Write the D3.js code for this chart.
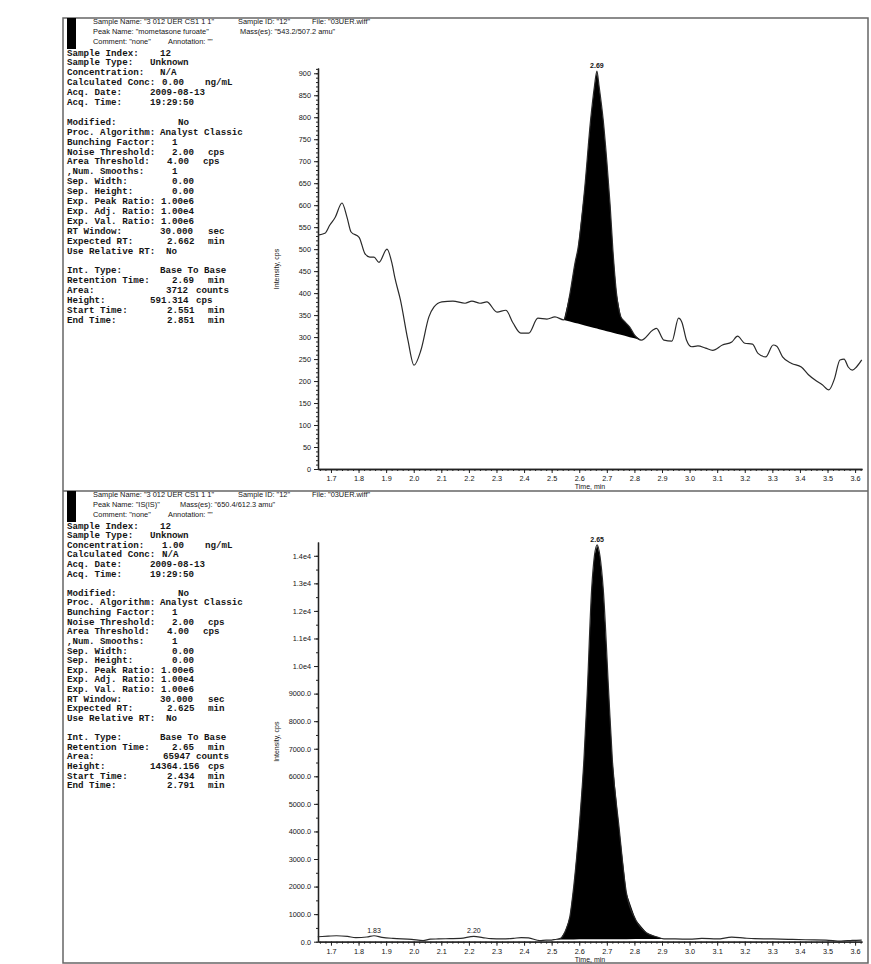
<!DOCTYPE html>
<html>
<head>
<meta charset="utf-8">
<script src="https://cdn.jsdelivr.net/npm/d3@7"></script>
<style>
body { margin: 0; background: #fff; }
svg text { fill: #151515; }
</style>
</head>
<body>
<script>
// chromatogram 1 : mometasone furoate (543.2/507.2)
var topTime = [1.653, 1.678, 1.696, 1.715, 1.740, 1.758, 1.773, 1.802, 1.823, 1.841, 1.856, 1.874, 1.903, 1.921, 1.932,
  1.952, 1.979, 2.001, 2.026, 2.055, 2.073, 2.102, 2.142, 2.186, 2.211, 2.240, 2.265, 2.302, 2.334, 2.360, 2.388, 2.417,
  2.450, 2.483, 2.512, 2.544, 2.566, 2.585, 2.595, 2.620, 2.641, 2.655, 2.664, 2.672, 2.687, 2.700, 2.712, 2.722, 2.735,
  2.751, 2.765, 2.783, 2.800, 2.825, 2.867, 2.880, 2.907, 2.936, 2.960, 2.972, 2.989, 3.008, 3.030, 3.058, 3.084, 3.119,
  3.153, 3.174, 3.200, 3.228, 3.248, 3.276, 3.303, 3.316, 3.337, 3.370, 3.405, 3.430, 3.460, 3.480, 3.505, 3.525, 3.545,
  3.560, 3.575, 3.590, 3.605, 3.624];
var topCps = [532, 536, 555, 572, 605, 573, 539, 527, 490, 482, 482, 470, 500, 468, 434,
  384, 293, 236, 270, 346, 368, 380, 382, 377, 382, 377, 380, 357, 361, 332, 309, 309,
  343, 341, 346, 339, 398, 470, 500, 640, 793, 870, 905, 870, 793, 700, 600, 498, 400,
  346, 335, 323, 305, 293, 316, 320, 293, 291, 343, 334, 293, 278, 280, 275, 270, 282,
  289, 302, 286, 284, 263, 255, 282, 279, 255, 240, 232, 215, 200, 192, 180, 205, 248,
  250, 232, 225, 232, 248];
var topPeak = [2.544, 2.825];
var topPeakLabel = "2.69";

// chromatogram 2 : IS (650.4/612.3)
var botTime = [1.652, 1.690, 1.720, 1.760, 1.790, 1.830, 1.856, 1.885, 1.925, 1.993, 2.034, 2.060, 2.089, 2.130, 2.170,
  2.218, 2.250, 2.280, 2.320, 2.361, 2.390, 2.416, 2.457, 2.480, 2.500, 2.512, 2.532, 2.550, 2.566, 2.580, 2.600, 2.617,
  2.628, 2.645, 2.655, 2.665, 2.675, 2.687, 2.708, 2.720, 2.744, 2.771, 2.805, 2.845, 2.880, 2.907, 2.948, 3.000, 3.044,
  3.100, 3.153, 3.200, 3.235, 3.300, 3.358, 3.420, 3.494, 3.549, 3.590, 3.624];
var botCps = [180, 200, 215, 190, 150, 170, 215, 160, 120, 85, 40, 90, 100, 110, 120,
  190, 150, 110, 100, 120, 150, 140, 40, 60, 60, 80, 120, 400, 910, 2000, 4180, 6600,
  8800, 12790, 14000, 14400, 14000, 12790, 8800, 6600, 4180, 1770, 790, 315, 180, 100, 100, 90, 120,
  100, 165, 130, 110, 100, 85, 70, 60, 20, 50, 60];
var botPeak = [2.512, 2.907];
var botPeakLabel = "2.65";
var botSmallPeaks = [[1.856, "1.83"], [2.218, "2.20"]];

var topYTicks = d3.range(0, 901, 50);
var botYTicks = d3.range(0, 14001, 1000);
var xTickValues = d3.range(17, 37).map(function (d) { return d / 10; });

var topHeader = [
  [['Sample Name: "3 012 UER CS1 1 1"', 0], ['Sample ID: "12"', 145], ['File: "03UER.wiff"', 219]],
  [['Peak Name: "mometasone furoate"', 0], ['Mass(es): "543.2/507.2 amu"', 147]],
  [['Comment: "none"', 0], ['Annotation: ""', 75]]
];
var botHeader = [
  [['Sample Name: "3 012 UER CS1 1 1"', 0], ['Sample ID: "12"', 145], ['File: "03UER.wiff"', 219]],
  [['Peak Name: "IS(IS)"', 0], ['Mass(es): "650.4/612.3 amu"', 87]],
  [['Comment: "none"', 0], ['Annotation: ""', 75]]
];

// [label, value, value x, unit, unit x] ; null = empty line
var topParams = [
  ["Sample Index:", "12", 160], ["Sample Type:", "Unknown", 150], ["Concentration:", "N/A", 160],
  ["Calculated Conc:", "0.00", 162, "ng/mL", 205], ["Acq. Date:", "2009-08-13", 150], ["Acq. Time:", "19:29:50", 150], null,
  ["Modified:", "No", 178], ["Proc. Algorithm:", "Analyst Classic", 160], ["Bunching Factor:", "1", 172],
  ["Noise Threshold:", "2.00", 172, "cps", 208], ["Area Threshold:", "4.00", 167, "cps", 203], [",Num. Smooths:", "1", 172],
  ["Sep. Width:", "0.00", 172], ["Sep. Height:", "0.00", 172], ["Exp. Peak Ratio:", "1.00e6", 161],
  ["Exp. Adj. Ratio:", "1.00e4", 161], ["Exp. Val. Ratio:", "1.00e6", 161], ["RT Window:", "30.000", 160, "sec", 208],
  ["Expected RT:", "2.662", 167, "min", 208], ["Use Relative RT:", "No", 166], null,
  ["Int. Type:", "Base To Base", 160], ["Retention Time:", "2.69", 172, "min", 208], ["Area:", "3712", 166, "counts", 196],
  ["Height:", "591.314", 150, "cps", 196], ["Start Time:", "2.551", 167, "min", 208], ["End Time:", "2.851", 167, "min", 208]
];
var botParams = [
  ["Sample Index:", "12", 160], ["Sample Type:", "Unknown", 150], ["Concentration:", "1.00", 162, "ng/mL", 205],
  ["Calculated Conc:", "N/A", 162], ["Acq. Date:", "2009-08-13", 150], ["Acq. Time:", "19:29:50", 150], null,
  ["Modified:", "No", 178], ["Proc. Algorithm:", "Analyst Classic", 160], ["Bunching Factor:", "1", 172],
  ["Noise Threshold:", "2.00", 172, "cps", 208], ["Area Threshold:", "4.00", 167, "cps", 203], [",Num. Smooths:", "1", 172],
  ["Sep. Width:", "0.00", 172], ["Sep. Height:", "0.00", 172], ["Exp. Peak Ratio:", "1.00e6", 161],
  ["Exp. Adj. Ratio:", "1.00e4", 161], ["Exp. Val. Ratio:", "1.00e6", 161], ["RT Window:", "30.000", 160, "sec", 208],
  ["Expected RT:", "2.625", 167, "min", 208], ["Use Relative RT:", "No", 166], null,
  ["Int. Type:", "Base To Base", 160], ["Retention Time:", "2.65", 172, "min", 208], ["Area:", "65947", 163, "counts", 196],
  ["Height:", "14364.156", 150, "cps", 208], ["Start Time:", "2.434", 167, "min", 208], ["End Time:", "2.791", 167, "min", 208]
];
//////////////////////////////

var W = 871, H = 964;
var leftX = 63; // left edge of the printed page

var svg = d3.select("body").append("svg").attr("width", W).attr("height", H);

// frame of the two printed panels
svg.append("path")
  .attr("d", "M" + leftX + ",18 H868 V963 H" + leftX + " Z M" + leftX + ",491 H868")
  .attr("fill", "none").attr("stroke", "#666").attr("stroke-width", 1.5);

drawPanel({
  top: 18, header: topHeader, params: topParams, lineStep: 9.9,
  time: topTime, cps: topCps, peak: topPeak, peakLabel: topPeakLabel,
  yDomain: [0, 912], yRange: [469, 68], yTicks: topYTicks, yMinor: 10,
  yFormat: function (d) { return d; }, small: []
});
drawPanel({
  top: 491, header: botHeader, params: botParams, lineStep: 9.62,
  time: botTime, cps: botCps, peak: botPeak, peakLabel: botPeakLabel,
  yDomain: [0, 14500], yRange: [941.7, 542], yTicks: botYTicks, yMinor: 500,
  yFormat: function (d) { return d >= 10000 ? (d / 10000).toFixed(1) + "e4" : d.toFixed(1); },
  small: botSmallPeaks
});

function drawPanel(p) {
  var g = svg.append("g");
  var t0 = p.top;

  g.append("rect").attr("x", leftX + 4).attr("y", t0).attr("width", 9).attr("height", 31).attr("fill", "#000");

  p.header.forEach(function (line, i) {
    line.forEach(function (seg) {
      g.append("text")
        .attr("x", 93 + seg[1]).attr("y", t0 + 6 + i * 9.8)
        .attr("font-family", "Liberation Sans, Arial, sans-serif")
        .attr("font-size", "7.4px")
        .text(seg[0]);
    });
  });

  p.params.forEach(function (row, i) {
    if (!row) return;
    var y = t0 + 37.5 + i * p.lineStep;
    var txt = g.append("text")
      .attr("y", y)
      .attr("font-family", "Liberation Mono, Courier New, monospace")
      .attr("font-size", "9.2px")
      .attr("font-weight", "bold");
    txt.append("tspan").attr("x", leftX + 4).text(row[0]);
    txt.append("tspan").attr("x", row[2]).text(row[1]);
    if (row[3]) txt.append("tspan").attr("x", row[4]).text(row[3]);
  });

  var x = d3.scaleLinear().domain([1.653, 3.625]).range([318, 862]);
  var y = d3.scaleLinear().domain(p.yDomain).range(p.yRange);
  var y0 = p.yRange[0];

  // axes
  var xAxis = g.append("g").attr("transform", "translate(0," + y0 + ")")
    .call(d3.axisBottom(x).tickValues(xTickValues).tickFormat(d3.format(".1f")).tickSize(4).tickSizeOuter(0));
  g.append("g").attr("transform", "translate(0," + y0 + ")")
    .call(d3.axisBottom(x).tickValues(d3.range(83, 182).map(function (d) { return d / 50; })).tickFormat("").tickSize(2).tickSizeOuter(0));
  g.append("g").attr("transform", "translate(318,0)")
    .call(d3.axisLeft(y).tickValues(p.yTicks).tickFormat(p.yFormat).tickSize(4).tickSizeOuter(0));
  g.append("g").attr("transform", "translate(318,0)")
    .call(d3.axisLeft(y).tickValues(d3.range(0, p.yDomain[1], p.yMinor)).tickFormat("").tickSize(2).tickSizeOuter(0));
  g.selectAll(".domain").attr("stroke", "#222").attr("stroke-width", 1.3);
  g.selectAll(".tick line").attr("stroke", "#222");
  g.selectAll(".tick text")
    .attr("font-family", "Liberation Sans, Arial, sans-serif")
    .attr("font-size", "7.3px")
    .attr("fill", "#111");
  xAxis.selectAll(".tick text").attr("dy", "0.75em");

  g.append("text")
    .attr("x", 590).attr("y", y0 + 20)
    .attr("text-anchor", "middle")
    .attr("font-family", "Liberation Sans, Arial, sans-serif").attr("font-size", "7px")
    .text("Time, min");
  g.append("text")
    .attr("transform", "translate(279," + (y0 - 200) + ") rotate(-90)")
    .attr("text-anchor", "middle")
    .attr("font-family", "Liberation Sans, Arial, sans-serif").attr("font-size", "7px")
    .text("Intensity, cps");

  var data = p.time.map(function (t, i) { return [t, p.cps[i]]; });

  // integrated peak, filled down to the straight base-to-base line
  var a = data.filter(function (d) { return d[0] == p.peak[0]; })[0];
  var b = data.filter(function (d) { return d[0] == p.peak[1]; })[0];
  var base = d3.scaleLinear().domain([a[0], b[0]]).range([a[1], b[1]]);
  var inPeak = data.filter(function (d) { return d[0] >= a[0] && d[0] <= b[0]; });
  g.append("path")
    .datum(inPeak)
    .attr("fill", "#000")
    .attr("d", d3.area()
      .x(function (d) { return x(d[0]); })
      .y0(function (d) { return y(base(d[0])); })
      .y1(function (d) { return y(d[1]); }));

  g.append("path")
    .datum(data)
    .attr("fill", "none")
    .attr("stroke", "#2a2a2a")
    .attr("stroke-width", 1.2)
    .attr("stroke-linejoin", "round")
    .attr("d", d3.line()
      .x(function (d) { return x(d[0]); })
      .y(function (d) { return y(d[1]); })
      .curve(d3.curveMonotoneX));

  var apex = d3.greatest(data, function (d) { return d[1]; });
  g.append("text")
    .attr("x", x(apex[0])).attr("y", y(apex[1]) - 3)
    .attr("text-anchor", "middle")
    .attr("font-family", "Liberation Sans, Arial, sans-serif").attr("font-size", "7px")
    .attr("font-weight", "bold")
    .text(p.peakLabel);

  p.small.forEach(function (s) {
    var near = d3.least(data, function (d) { return Math.abs(d[0] - s[0]); });
    g.append("text")
      .attr("x", x(s[0])).attr("y", y(near[1]) - 3)
      .attr("text-anchor", "middle")
      .attr("font-family", "Liberation Sans, Arial, sans-serif").attr("font-size", "7px")
      .text(s[1]);
  });
}
</script>
</body>
</html>
